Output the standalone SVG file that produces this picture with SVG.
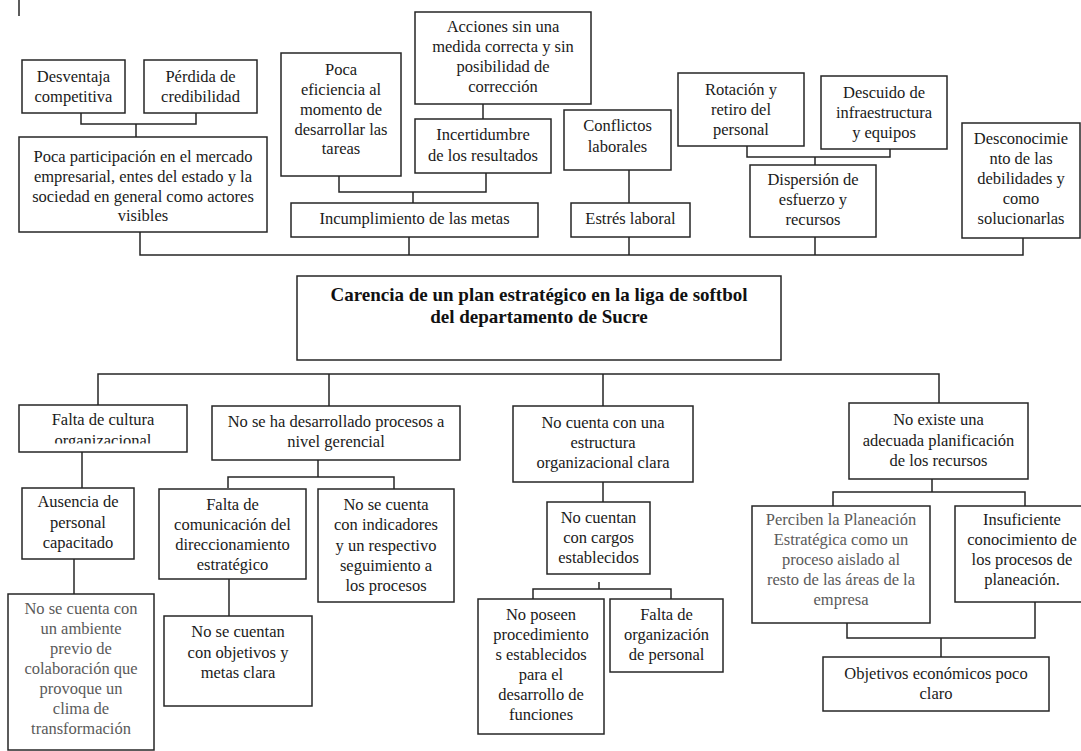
<svg xmlns="http://www.w3.org/2000/svg" width="1081" height="751" viewBox="0 0 1081 751">
<style>
rect.b{fill:#fff;stroke:#262626;stroke-width:1.5}
text{font-family:"Liberation Serif","Times New Roman",serif;font-size:16.5px;fill:#1a1a1a;text-anchor:middle}
text.g{fill:#5a5a5a}
text.t{font-weight:bold;font-size:19px;fill:#111}
#connectors path{fill:none;stroke:#262626;stroke-width:1.5}
</style>
<defs>
<clipPath id="clipCultura"><rect x="19" y="405" width="168" height="38.5"/></clipPath>
</defs>
<rect width="1081" height="751" fill="#fff"/>
<g id="connectors">
<path d="M19,0V16"/>
<path d="M81,113V124H196V113M136,124V137"/>
<path d="M140,232V255H1023V238M409,237V255M629,237V255M815,237V255"/>
<path d="M339,176V192H486V173M413,192V203"/>
<path d="M483,104V119"/>
<path d="M629,170V203"/>
<path d="M747,146V157H890V149M815,157V165"/>
<path d="M98,405V374H939V403M329,374V406M603,374V406"/>
<path d="M82,452V488"/>
<path d="M74,559V594"/>
<path d="M318,460V477M228,488V477H394V489"/>
<path d="M229,579V616"/>
<path d="M603,482V502"/>
<path d="M599,582V589M533,599V589H671V599"/>
<path d="M932,479V492M833,506V492H1025V506"/>
<path d="M847,623V638H1035V602M941,638V657"/>
</g>
<g id="n-desventaja"><rect class="b" x="22" y="60" width="103" height="53"/><text x="73.5" y="82">Desventaja</text><text x="73.5" y="102">competitiva</text></g>
<g id="n-perdida"><rect class="b" x="144" y="60" width="113" height="53"/><text x="200.5" y="82">Pérdida de</text><text x="200.5" y="102">credibilidad</text></g>
<g id="n-participacion"><rect class="b" x="19" y="137" width="248" height="95"/><text x="143" y="162">Poca participación en el mercado</text><text x="143" y="182">empresarial, entes del estado y la</text><text x="143" y="202">sociedad en general como actores</text><text x="143" y="221">visibles</text></g>
<g id="n-eficiencia"><rect class="b" x="281" y="53" width="120" height="123"/><text x="341" y="75">Poca</text><text x="341" y="95">eficiencia al</text><text x="341" y="115">momento de</text><text x="341" y="135">desarrollar las</text><text x="341" y="154">tareas</text></g>
<g id="n-acciones"><rect class="b" x="415" y="12" width="176" height="92"/><text x="503" y="32">Acciones sin una</text><text x="503" y="52">medida correcta y sin</text><text x="503" y="72">posibilidad de</text><text x="503" y="92">corrección</text></g>
<g id="n-incertidumbre"><rect class="b" x="415" y="119" width="136" height="54"/><text x="483" y="140">Incertidumbre</text><text x="483" y="161">de los resultados</text></g>
<g id="n-incumplimiento"><rect class="b" x="291" y="203" width="247" height="34"/><text x="414.5" y="224">Incumplimiento de las metas</text></g>
<g id="n-conflictos"><rect class="b" x="564" y="110" width="107" height="60"/><text x="617.5" y="131">Conflictos</text><text x="617.5" y="152">laborales</text></g>
<g id="n-estres"><rect class="b" x="571" y="203" width="119" height="34"/><text x="630.5" y="224">Estrés laboral</text></g>
<g id="n-rotacion"><rect class="b" x="678" y="73" width="126" height="73"/><text x="741" y="95">Rotación y</text><text x="741" y="115">retiro del</text><text x="741" y="135">personal</text></g>
<g id="n-descuido"><rect class="b" x="821" y="76" width="126" height="73"/><text x="884" y="98">Descuido de</text><text x="884" y="118">infraestructura</text><text x="884" y="138">y equipos</text></g>
<g id="n-dispersion"><rect class="b" x="750" y="165" width="126" height="72"/><text x="813" y="185">Dispersión de</text><text x="813" y="205">esfuerzo y</text><text x="813" y="225">recursos</text></g>
<g id="n-desconocimiento"><rect class="b" x="962" y="123" width="118" height="115"/><text x="1021" y="144">Desconocimie</text><text x="1021" y="164">nto de las</text><text x="1021" y="184">debilidades y</text><text x="1021" y="204">como</text><text x="1021" y="224">solucionarlas</text></g>
<g id="n-carencia"><rect class="b" x="297" y="276" width="484" height="84"/><text class="t" x="539" y="301">Carencia de un plan estratégico en la liga de softbol</text><text class="t" x="539" y="323">del departamento de Sucre</text></g>
<g id="n-cultura"><rect class="b" x="19" y="405" width="168" height="47"/><g clip-path="url(#clipCultura)"><text x="103" y="425">Falta de cultura</text><text x="103" y="446">organizacional</text></g></g>
<g id="n-gerencial"><rect class="b" x="212" y="406" width="248" height="54"/><text x="336" y="427">No se ha desarrollado procesos a</text><text x="336" y="447">nivel gerencial</text></g>
<g id="n-ausencia"><rect class="b" x="22" y="488" width="112" height="71"/><text x="78" y="507">Ausencia de</text><text x="78" y="528">personal</text><text x="78" y="548">capacitado</text></g>
<g id="n-ambiente"><rect class="b" x="8" y="594" width="146" height="156"/><text class="g" x="81" y="614">No se cuenta con</text><text class="g" x="81" y="634">un ambiente</text><text class="g" x="81" y="654">previo de</text><text class="g" x="81" y="674">colaboración que</text><text class="g" x="81" y="694">provoque un</text><text class="g" x="81" y="714">clima de</text><text class="g" x="81" y="734">transformación</text></g>
<g id="n-comunicacion"><rect class="b" x="159" y="489" width="147" height="90"/><text x="232.5" y="510">Falta de</text><text x="232.5" y="530">comunicación del</text><text x="232.5" y="550">direccionamiento</text><text x="232.5" y="570">estratégico</text></g>
<g id="n-indicadores"><rect class="b" x="318" y="489" width="136" height="113"/><text x="386" y="510">No se cuenta</text><text x="386" y="530">con indicadores</text><text x="386" y="551">y un respectivo</text><text x="386" y="571">seguimiento a</text><text x="386" y="591">los procesos</text></g>
<g id="n-objetivos-metas"><rect class="b" x="164" y="616" width="148" height="90"/><text x="238" y="637">No se cuentan</text><text x="238" y="658">con objetivos y</text><text x="238" y="678">metas clara</text></g>
<g id="n-estructura"><rect class="b" x="513" y="406" width="180" height="76"/><text x="603" y="428">No cuenta con una</text><text x="603" y="448">estructura</text><text x="603" y="468">organizacional clara</text></g>
<g id="n-cargos"><rect class="b" x="547" y="502" width="103" height="72"/><text x="598.5" y="523">No cuentan</text><text x="598.5" y="543">con cargos</text><text x="598.5" y="563">establecidos</text></g>
<g id="n-procedimientos"><rect class="b" x="478" y="599" width="126" height="135"/><text x="541" y="620">No poseen</text><text x="541" y="640">procedimiento</text><text x="541" y="660">s establecidos</text><text x="541" y="680">para el</text><text x="541" y="700">desarrollo de</text><text x="541" y="720">funciones</text></g>
<g id="n-organizacion"><rect class="b" x="610" y="599" width="113" height="73"/><text x="666.5" y="620">Falta de</text><text x="666.5" y="640">organización</text><text x="666.5" y="660">de personal</text></g>
<g id="n-planificacion"><rect class="b" x="849" y="403" width="179" height="76"/><text x="938.5" y="425">No existe una</text><text x="938.5" y="446">adecuada planificación</text><text x="938.5" y="466">de los recursos</text></g>
<g id="n-perciben"><rect class="b" x="752" y="506" width="178" height="117"/><text class="g" x="841" y="525">Perciben la Planeación</text><text class="g" x="841" y="545">Estratégica como un</text><text class="g" x="841" y="565">proceso aislado al</text><text class="g" x="841" y="585">resto de las áreas de la</text><text class="g" x="841" y="605">empresa</text></g>
<g id="n-insuficiente"><rect class="b" x="955" y="506" width="135" height="96"/><text x="1022" y="525">Insuficiente</text><text x="1022" y="545">conocimiento de</text><text x="1022" y="565">los procesos de</text><text x="1022" y="585">planeación.</text></g>
<g id="n-economicos"><rect class="b" x="823" y="657" width="226" height="54"/><text x="936" y="679">Objetivos económicos poco</text><text x="936" y="699">claro</text></g>
</svg>
